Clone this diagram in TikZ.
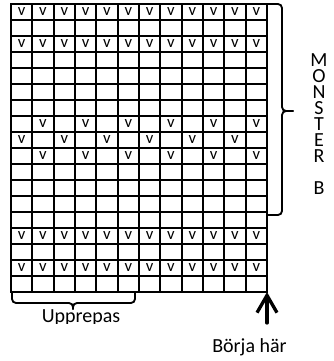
\documentclass[tikz,border=0pt]{standalone}
\usepackage{fontspec}
\setmainfont{Carlito}
\usetikzlibrary{arrows.meta}

\tikzset{
  gridline/.style={line width=1.5pt, line cap=rect},
  stitch/.style={font=\fontsize{12.5}{12.5}\selectfont, inner sep=0pt},
  bracket/.style={line width=1.4pt, rounded corners=3pt},
  caption/.style={font=\fontsize{15}{15}\selectfont, inner sep=0pt, anchor=base},
}

\begin{document}
\begin{tikzpicture}[x=0.75pt, y=-0.75pt, line cap=round, line join=round]
  \useasboundingbox (0,0) rectangle (333,361);

  % chart: 12 stitches x 18 rows
  \foreach \c in {0,...,12}
    \draw[gridline] ({11+\c*256/12},4) -- ({11+\c*256/12},292);
  \foreach \r in {0,...,18}
    \draw[gridline] (11,{4+\r*16}) -- (267,{4+\r*16});

  \foreach \r in {1,3,15,17}
    \foreach \c in {1,...,12}
      \node[stitch] (v\r-\c) at ({11+(\c-0.5)*256/12},{3.5+(\r-0.5)*16}) {v};
  \foreach \r/\a/\b in {8/2/4,9/1/3,10/2/4}
    \foreach \c in {\a,\b,...,12}
      \node[stitch] (v\r-\c) at ({11+(\c-0.5)*256/12},{3.5+(\r-0.5)*16}) {v};

  % pattern repeat
  \coordinate (rep-l) at (12,293);
  \coordinate (rep-r) at (135,293);
  \coordinate (rep-tip) at (73,309);
  \draw[bracket] (rep-l) |- (73,303) -- (rep-tip);
  \draw[bracket] (rep-r) |- (73,303) -- (rep-tip);
  \begin{scope}
    \clip (0,0) rectangle (333,323.5);
    \node[caption] (upprepas) at (81,322) {Upprepas};
  \end{scope}

  % pattern B
  \coordinate (mb-top) at (268,4);
  \coordinate (mb-bot) at (268,215);
  \coordinate (mb-tip) at (293,111);
  \draw[bracket] (mb-top) -| (282,111) -- (mb-tip);
  \draw[bracket] (mb-bot) -| (282,111) -- (mb-tip);
  \node[font=\fontsize{15}{12}\selectfont, inner sep=0pt, align=center, anchor=north]
    (monster) at (319,53) {M\\O\\N\\S\\T\\E\\R\\[12pt]B};

  % start
  \coordinate (start) at (267,323);
  \coordinate (corner) at (267,292);
  \draw[line width=2.5pt, -{Straight Barb[length=13pt, width=15pt]}] (start) -- (corner);
  \node[caption] (borja) at (249.5,352.5) {Börja här};
\end{tikzpicture}
\end{document}
